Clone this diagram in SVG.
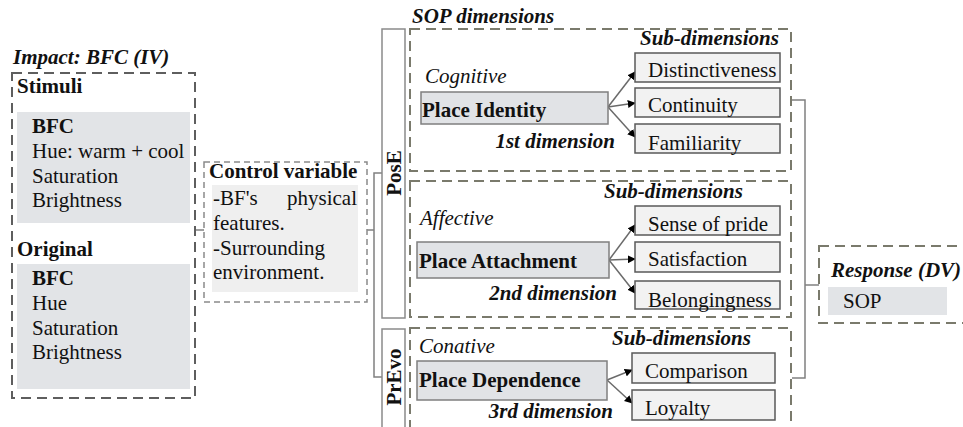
<svg xmlns="http://www.w3.org/2000/svg" width="963" height="427" viewBox="0 0 963 427">
<defs>
<marker id="ah" viewBox="0 0 10 10" refX="9" refY="5" markerWidth="8" markerHeight="8" markerUnits="userSpaceOnUse" orient="auto"><path d="M0,0 L10,5 L0,10 z" fill="#000"/></marker>
<style>
text{font-family:'Liberation Serif','DejaVu Serif',serif;font-size:21px;fill:#111}
.b{font-weight:bold}
.i{font-style:italic}
.bi{font-weight:bold;font-style:italic}
.dl{fill:none;stroke:#5e5e5e;stroke-width:2;stroke-dasharray:10 6}
.dc{fill:none;stroke:#8a8a8a;stroke-width:1.5;stroke-dasharray:6 4}
.ds{fill:none;stroke:#7a7a6c;stroke-width:2;stroke-dasharray:10 6}
.g{fill:#e2e4e7}
.gl{fill:#efefef}
.pb{fill:#e1e3e6;stroke:#7f7f7f;stroke-width:1.5}
.sb{fill:#f2f2f2;stroke:#595959;stroke-width:1.5}
.vb{fill:#fff;stroke:#8a8a8a;stroke-width:1.5}
.cn{fill:none;stroke:#808080;stroke-width:1.5}
.ar{fill:none;stroke:#6a6a6a;stroke-width:1.5;marker-end:url(#ah)}
</style>
</defs>
<g font-family="Liberation Serif, DejaVu Serif, serif">
<g id="connectors">
<path class="cn" d="M195,230 H204"/>
<path class="cn" d="M367,230 H374"/>
<path class="cn" d="M382,173 H374 V377 H382"/>
<path class="cn" d="M792,100 H805 V378 H792"/>
<path class="cn" d="M805,285 H819"/>
<path class="ar" d="M608,107 L635,72"/>
<path class="ar" d="M608,107 L635,103"/>
<path class="ar" d="M608,107 L635,137"/>
<path class="ar" d="M609,260 L635,225"/>
<path class="ar" d="M609,260 L635,259"/>
<path class="ar" d="M609,260 L635,293"/>
<path class="ar" d="M607,380 L632,370"/>
<path class="ar" d="M607,380 L632,403"/>
</g>

<g id="impact">
<text class="bi" x="13" y="64">Impact: BFC (IV)</text>
<rect class="dl" x="12" y="73" width="183" height="325"/>
<text class="b" x="17" y="93">Stimuli</text>
<rect class="g" x="17" y="112" width="173" height="111"/>
<text class="b" x="32" y="133">BFC</text>
<text x="32" y="158">Hue: warm + cool</text>
<text x="32" y="183">Saturation</text>
<text x="32" y="207">Brightness</text>
<text class="b" x="17" y="256">Original</text>
<rect class="g" x="17" y="264" width="173" height="125"/>
<text class="b" x="32" y="285">BFC</text>
<text x="32" y="310">Hue</text>
<text x="32" y="335">Saturation</text>
<text x="32" y="359">Brightness</text>
</g>

<g id="control">
<rect class="dc" x="204" y="162" width="163" height="140"/>
<rect class="gl" x="212" y="185" width="146" height="107"/>
<text class="b" x="209" y="178">Control variable</text>
<text x="213" y="205">-BF's</text>
<text x="357" y="205" text-anchor="end">physical</text>
<text x="213" y="230">features.</text>
<text x="213" y="255">-Surrounding</text>
<text x="213" y="279">environment.</text>
</g>

<g id="pose">
<rect class="vb" x="382" y="29" width="23" height="289"/>
<text class="b" transform="translate(401,173) rotate(-90)" text-anchor="middle">PosE</text>
</g>
<g id="prevo">
<rect class="vb" x="382" y="329" width="23" height="110"/>
<text class="b" transform="translate(401,377) rotate(-90)" text-anchor="middle">PrEvo</text>
</g>

<g id="sop-title">
<text class="bi" x="412" y="23">SOP dimensions</text>
</g>

<g id="place-identity">
<rect class="ds" x="410" y="29" width="381" height="142"/>
<text class="bi" x="640" y="45">Sub-dimensions</text>
<text class="i" x="425" y="83">Cognitive</text>
<rect class="pb" x="421" y="92" width="187" height="32"/>
<text class="b" x="422" y="117">Place Identity</text>
<text class="bi" x="615" y="148" text-anchor="end">1st dimension</text>
<rect class="sb" x="635" y="53" width="145" height="29"/>
<text x="648" y="77">Distinctiveness</text>
<rect class="sb" x="635" y="88" width="145" height="29"/>
<text x="648" y="112">Continuity</text>
<rect class="sb" x="635" y="124" width="145" height="29"/>
<text x="648" y="150">Familiarity</text>
</g>

<g id="place-attachment">
<rect class="ds" x="410" y="181" width="381" height="136"/>
<text class="bi" x="604" y="198">Sub-dimensions</text>
<text class="i" x="420" y="225">Affective</text>
<rect class="pb" x="417" y="242" width="192" height="36"/>
<text class="b" x="419" y="268">Place Attachment</text>
<text class="bi" x="617" y="300" text-anchor="end">2nd dimension</text>
<rect class="sb" x="635" y="206" width="145" height="29"/>
<text x="648" y="231">Sense of pride</text>
<rect class="sb" x="635" y="242" width="145" height="30"/>
<text x="648" y="266">Satisfaction</text>
<rect class="sb" x="635" y="281" width="145" height="28"/>
<text x="648" y="307">Belongingness</text>
</g>

<g id="place-dependence">
<rect class="ds" x="410" y="328" width="381" height="110"/>
<text class="bi" x="612" y="345">Sub-dimensions</text>
<text class="i" x="419" y="353">Conative</text>
<rect class="pb" x="417" y="361" width="190" height="39"/>
<text class="b" x="419" y="387">Place Dependence</text>
<text class="bi" x="613" y="418" text-anchor="end">3rd dimension</text>
<rect class="sb" x="632" y="353" width="143" height="30"/>
<text x="645" y="378">Comparison</text>
<rect class="sb" x="632" y="390" width="143" height="30"/>
<text x="645" y="415">Loyalty</text>
</g>

<g id="response">
<rect class="ds" x="819" y="246" width="150" height="77"/>
<text class="bi" x="831" y="277">Response (DV)</text>
<rect class="g" x="828" y="287" width="119" height="28"/>
<text x="843" y="308">SOP</text>
</g>
</g>
</svg>
